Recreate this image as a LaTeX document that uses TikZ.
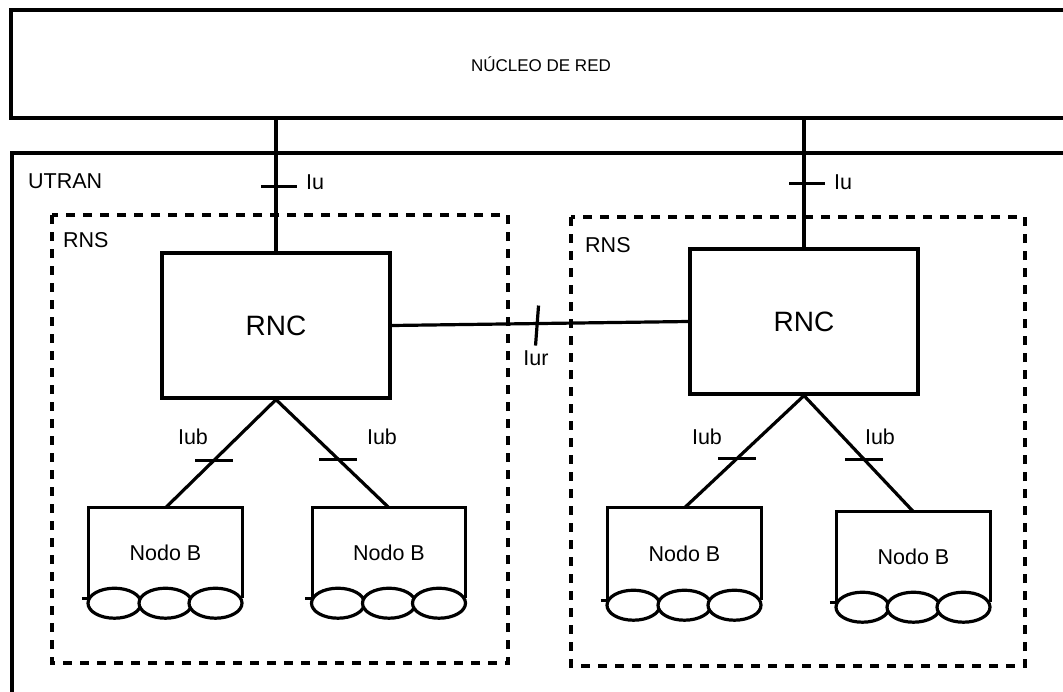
\documentclass[tikz,border=0pt]{standalone}
\usepackage{fontspec}
\setmainfont{Liberation Sans}
\usetikzlibrary{positioning,calc}
\tikzset{
  wire/.style={line width=3.2pt},
  corebox/.style={rectangle,draw,line width=3.2pt,inner sep=0pt,
                  minimum width=1060pt,minimum height=108pt,
                  font=\fontsize{17}{20}\selectfont},
  rncbox/.style={rectangle,draw,line width=3.2pt,inner sep=0pt,
                 minimum width=228pt,minimum height=145pt,
                 font=\fontsize{28}{32}\selectfont},
  nodob/.style={rectangle,inner sep=0pt,minimum width=153pt,
                minimum height=90pt,font=\fontsize{21.5}{24}\selectfont},
  rnsbox/.style={line width=3.2pt,dash pattern=on 9pt off 8pt},
  lbl/.style={font=\fontsize{21.5}{24}\selectfont,inner sep=0pt},
  tick/.style={line width=3.2pt},
}
\begin{document}
\begin{tikzpicture}[x=1pt,y=-1pt,line join=miter]
\useasboundingbox (0,0) rectangle (1063,691);

% Core network and UTRAN frame
\node[corebox] (core) at (541,64) {NÚCLEO DE RED};
\draw[wire] (12,700) |- (1075,153);
\node[lbl,anchor=west] (utran) at (28,181) {UTRAN};

% Radio network subsystems
\draw[rnsbox] (52,215) rectangle (508,663);
\draw[rnsbox] (571,217) rectangle (1025,666);
\node[lbl,anchor=west] (rnsa) at (63,240) {RNS};
\node[lbl,anchor=west] (rnsb) at (585,245) {RNS};

% Controllers
\node[rncbox] (rnc1) at (276,325.5) {RNC};
\node[rncbox] (rnc2) at (804,321.5) {RNC};

% Base stations
\node[nodob] (nb1) at (165.5,553) {Nodo B};
\node[nodob] (nb2) at (389,553) {Nodo B};
\node[nodob,minimum height=92pt] (nb3) at (684.5,554) {Nodo B};
\node[nodob,minimum height=90pt] (nb4) at (913.5,557) {Nodo B};
\foreach \n in {nb1,nb2,nb3,nb4} {
  \draw[wire] ($(\n.south west)+(-7,0)$) -- (\n.south west) -- (\n.north west)
    -- (\n.north east) -- (\n.south east);
  \foreach \dx in {-51,0,50}
    \draw[wire,fill=white] ($(\n.south)+(\dx,5)$) ellipse [x radius=26.5pt,y radius=15pt];
}

% Iu
\draw[wire] (rnc1.north) -- coordinate[pos=0.49] (iu1) (rnc1.north |- core.south);
\draw[wire] (rnc2.north) -- coordinate[pos=0.50] (iu2) (rnc2.north |- core.south);
\draw[tick] ($(iu1)+(-15,0)$) -- ++(36,0);
\draw[tick] ($(iu2)+(-15,0)$) -- ++(36,0);
\node[lbl,anchor=west] (iua) at (306,182) {Iu};
\node[lbl,anchor=west] (iub) at (834,182) {Iu};

% Iur
\draw[wire] (rnc1.east) -- coordinate[pos=0.49] (iur) (rnc2.east -| rnc2.west);
\draw[tick] ($(iur)+(1.5,-18)$) -- ($(iur)+(-1.5,22)$);
\node[lbl] (iurl) at (536,358) {Iur};

% Iub
\draw[wire] (rnc1.south) -- coordinate[pos=0.56] (t1) (nb1.north);
\draw[wire] (rnc1.south) -- coordinate[pos=0.55] (t2) (nb2.north);
\draw[wire] (rnc2.south) -- coordinate[pos=0.56] (t3) (nb3.north);
\draw[wire] (rnc2.south) -- coordinate[pos=0.55] (t4) (nb4.north);
\foreach \t in {t1,t2,t3,t4}
  \draw[tick] ($(\t)+(-19,0)$) -- ++(38,0);
\node[lbl] (iub1) at (193,437) {Iub};
\node[lbl] (iub2) at (382,437) {Iub};
\node[lbl] (iub3) at (707,437) {Iub};
\node[lbl] (iub4) at (880,437) {Iub};
\end{tikzpicture}
\end{document}
